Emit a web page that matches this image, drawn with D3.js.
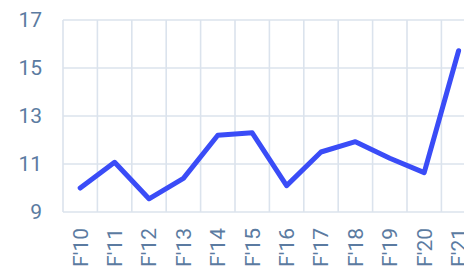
<!DOCTYPE html>
<html>
  <head>
    <style>
      body { margin: 0; padding: 0; overflow: hidden; background: #fff; }
      svg { display: block; }
    </style>
    <script src="https://cdn.jsdelivr.net/npm/d3@7/dist/d3.min.js"></script>
  </head>
  <body>
    <svg width="464" height="271"></svg>
    <script>
      // data
      const years = ["F'10", "F'11", "F'12", "F'13", "F'14", "F'15", "F'16", "F'17", "F'18", "F'19", "F'20", "F'21"];
      const values = [10.0, 11.07, 9.55, 10.4, 12.2, 12.3, 10.1, 11.5, 11.93, 11.24, 10.64, 15.72];
      const yTicks = [9, 11, 13, 15, 17];

      const svg = d3.select('svg');
      const plotLeft = 63, plotTop = 20, plotBottom = 212;
      const bandW = 34.4;

      const x = d3.scaleBand().domain(years).range([plotLeft, plotLeft + years.length * bandW]);
      const y = d3.scaleLinear().domain([9, 17]).range([plotBottom, plotTop]);

      const gridColor = '#dbe3ed';
      const textColor = '#5b7ba1';
      const font = 'Roboto, sans-serif';

      // vertical grid lines on band edges
      const edges = years.map(d => x(d)).concat([x.range()[1]]);
      svg.append('g').selectAll('line').data(edges).enter().append('line')
        .attr('x1', d => d).attr('x2', d => d)
        .attr('y1', plotTop).attr('y2', plotBottom)
        .attr('stroke', gridColor).attr('stroke-width', 1.6);

      // horizontal grid lines
      svg.append('g').selectAll('line').data(yTicks).enter().append('line')
        .attr('x1', plotLeft).attr('x2', x.range()[1])
        .attr('y1', d => y(d)).attr('y2', d => y(d))
        .attr('stroke', gridColor).attr('stroke-width', 1.6);

      // y labels
      svg.append('g').selectAll('text').data(yTicks).enter().append('text')
        .attr('x', 42).attr('y', d => y(d)).attr('dy', '0.35em')
        .attr('text-anchor', 'end')
        .attr('font-family', font).attr('font-size', 21)
        .attr('fill', textColor)
        .text(d => d);

      // x labels, rotated
      svg.append('g').selectAll('text').data(years).enter().append('text')
        .attr('transform', d => `translate(${x(d) + x.bandwidth() / 2},228) rotate(-90)`)
        .attr('dy', '0.35em')
        .attr('text-anchor', 'end')
        .attr('font-family', font).attr('font-size', 21)
        .attr('fill', textColor)
        .text(d => d);

      // line
      const line = d3.line()
        .x((d, i) => x(years[i]) + x.bandwidth() / 2)
        .y(d => y(d));

      svg.append('path').datum(values)
        .attr('d', line)
        .attr('fill', 'none')
        .attr('stroke', '#3a4cf7')
        .attr('stroke-width', 5)
        .attr('stroke-linejoin', 'round')
        .attr('stroke-linecap', 'round');
    </script>
  </body>
</html>
